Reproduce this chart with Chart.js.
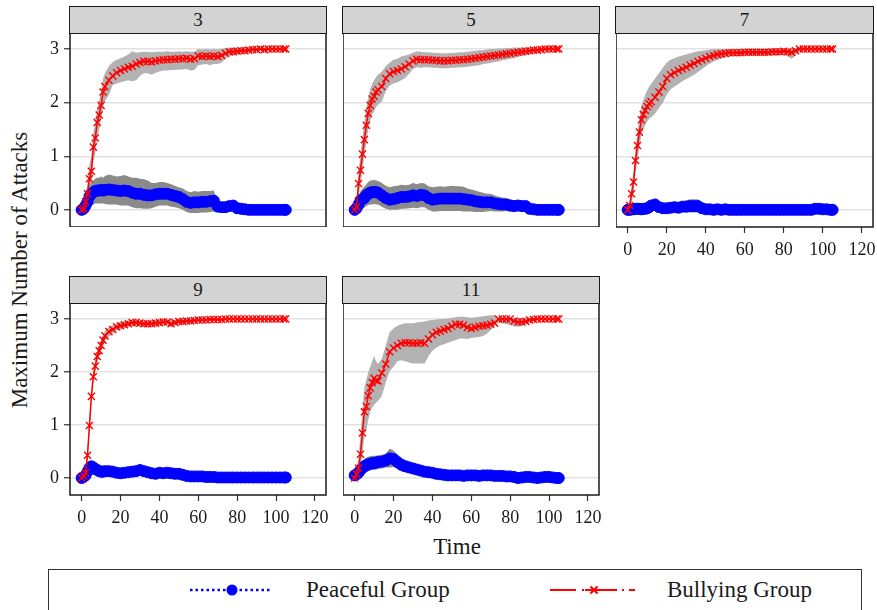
<!DOCTYPE html>
<html><head><meta charset="utf-8">
<script src="https://cdn.jsdelivr.net/npm/chart.js@4.4.1/dist/chart.umd.min.js"></script>
<style>
html,body{margin:0;padding:0;background:#fff;}
body{width:877px;height:610px;overflow:hidden;position:relative;font-family:"Liberation Serif","DejaVu Serif",serif;color:#1a1a1a;}
canvas{position:absolute;}
.strip{position:absolute;box-sizing:border-box;background:#d3d3d3;border:1.5px solid #1a1a1a;font-size:19px;display:flex;align-items:center;justify-content:center;}
.ytitle{position:absolute;width:340px;left:-150px;top:257px;height:26px;line-height:26px;text-align:center;font-size:23px;transform:rotate(-90deg);}
.xtitle{position:absolute;left:357px;width:200px;top:534px;line-height:26px;text-align:center;font-size:23px;}
.legend{position:absolute;left:48px;top:569px;width:814px;height:60px;box-sizing:border-box;border:1px solid #333;}
.ltext{position:absolute;font-size:23px;line-height:26px;top:577px;}
svg{position:absolute;}
</style></head>
<body>
<div class="ytitle">Maximum Number of Attacks</div>
<div class="xtitle">Time</div>
<div class="legend"></div>
<svg style="left:180px;top:578px" width="100" height="24">
  <line x1="10" y1="12" x2="92" y2="12" stroke="#0000ff" stroke-width="2.5" stroke-dasharray="2.5,3"/>
  <circle cx="52" cy="12" r="5.5" fill="#0000ff"/>
</svg>
<div class="ltext" style="left:306px">Peaceful Group</div>
<svg style="left:545px;top:578px" width="100" height="24">
  <path d="M5 12 H31 M37 12 H39 M53 12 H72 M77 12 H79 M84 12 H90" stroke="#ff0000" stroke-width="2"/>
  <path d="M45.5 8.5 L52.5 15.5 M45.5 15.5 L52.5 8.5" stroke="#ff0000" stroke-width="2"/>
  <line x1="40" y1="12" x2="58" y2="12" stroke="#ff0000" stroke-width="2"/>
</svg>
<div class="ltext" style="left:667px">Bullying Group</div>
<script>
// ---- data ----
const panelTitles = ['3', '5', '7', '9', '11'];
const xTicks = [0, 20, 40, 60, 80, 100, 120];
const yTicks = [0, 1, 2, 3];
const times = [0,1,2,3,4,5,6,7,8,9,
  10,11,12,14,16,18,20,22,24,26,
  28,30,32,34,36,38,40,42,44,46,
  48,50,52,54,56,58,60,62,64,66,
  68,70,72,74,76,78,80,82,84,86,
  88,90,92,94,96,98,100,102,104,105];

const bully3 = [0,0.02,0.15,0.3,0.58,0.72,1.17,1.34,1.63,1.77,
  1.95,2.2,2.3,2.42,2.5,2.56,2.6,2.63,2.66,2.68,
  2.72,2.75,2.77,2.77,2.76,2.78,2.79,2.8,2.8,2.81,
  2.81,2.82,2.82,2.83,2.81,2.82,2.87,2.86,2.87,2.86,
  2.87,2.86,2.88,2.92,2.95,2.95,2.96,2.97,2.97,2.98,
  2.99,2.99,3,2.99,3,3,3,3,3,3];
const bully3Hi = [0,0.08,0.3,0.5,0.85,1.0,1.45,1.62,1.9,2.05,
  2.22,2.45,2.55,2.68,2.76,2.8,2.83,2.86,2.9,2.96,
  2.93,2.94,2.95,2.95,2.94,2.95,2.95,2.95,2.96,2.95,
  2.95,2.96,2.95,2.96,2.95,2.95,3.0,2.99,3.0,2.99,
  3.0,2.99,3.0,3.02,3.03,3.03,3.03,3.03,3.03,3.03,
  3.03,3.03,3.03,3.03,3.02,3.02,3.02,3.02,3.02,3.02];
const bully3Lo = [0,-0.02,0.02,0.12,0.32,0.45,0.9,1.05,1.35,1.5,
  1.68,1.92,2.03,2.15,2.33,2.36,2.38,2.4,2.42,2.4,
  2.42,2.5,2.55,2.55,2.52,2.56,2.58,2.6,2.6,2.61,
  2.61,2.62,2.62,2.63,2.6,2.61,2.7,2.71,2.72,2.7,
  2.72,2.72,2.75,2.82,2.88,2.88,2.9,2.92,2.93,2.95,
  2.96,2.97,2.98,2.97,2.98,2.99,3.0,3.0,3.0,3.0];
const peace3 = [0,0.02,0.08,0.15,0.25,0.3,0.33,0.35,0.36,0.36,
  0.37,0.36,0.37,0.38,0.37,0.36,0.35,0.36,0.35,0.32,
  0.3,0.3,0.28,0.27,0.27,0.29,0.3,0.3,0.3,0.28,
  0.26,0.24,0.2,0.15,0.13,0.14,0.14,0.15,0.15,0.16,
  0.17,0.06,0.05,0.05,0.07,0.08,0.03,0.02,0.01,0,
  0,0,0,0,0,0,0,0,0,0];
const peace3Hi = [0,0.05,0.18,0.3,0.42,0.5,0.55,0.58,0.6,0.6,
  0.62,0.6,0.63,0.66,0.64,0.62,0.63,0.65,0.62,0.6,
  0.6,0.58,0.57,0.55,0.5,0.5,0.52,0.52,0.5,0.48,
  0.45,0.42,0.4,0.35,0.33,0.35,0.34,0.35,0.35,0.35,
  0.36,0.12,0.1,0.1,0.14,0.14,0.06,0.04,0.02,0.01,
  0.01,0.01,0.01,0.01,0.01,0.01,0.01,0.01,0.01,0.01];
const peace3Lo = [0,-0.01,-0.02,0,0.06,0.1,0.1,0.12,0.12,0.12,
  0.12,0.12,0.11,0.1,0.1,0.1,0.08,0.08,0.08,0.05,
  0.03,0.03,0.02,0.02,0.03,0.06,0.08,0.08,0.08,0.06,
  0.05,0.03,0,-0.04,-0.06,-0.06,-0.06,-0.05,-0.05,-0.04,
  -0.03,0,0,0,0,0.02,0,0,0,-0.01,
  -0.01,-0.01,-0.01,-0.01,-0.01,-0.01,-0.01,-0.01,-0.01,-0.01];

const bully5 = [0,0.06,0.49,0.74,1.04,1.31,1.58,1.8,1.95,2.07,
  2.12,2.2,2.24,2.3,2.45,2.54,2.58,2.6,2.63,2.67,
  2.72,2.78,2.81,2.8,2.8,2.8,2.79,2.79,2.78,2.78,
  2.78,2.79,2.79,2.8,2.8,2.81,2.82,2.83,2.84,2.85,
  2.86,2.87,2.88,2.89,2.9,2.91,2.92,2.93,2.94,2.95,
  2.96,2.97,2.98,2.98,2.99,3,3,3,3,3];
const bully5Hi = [0,0.15,0.75,1.0,1.35,1.62,1.9,2.1,2.25,2.36,
  2.42,2.48,2.52,2.58,2.68,2.75,2.8,2.82,2.86,2.88,
  2.9,2.93,2.96,2.95,2.94,2.94,2.93,2.93,2.92,2.92,
  2.92,2.93,2.93,2.94,2.94,2.95,2.96,2.97,2.98,2.98,
  2.99,3.0,3.0,3.01,3.01,3.02,3.02,3.03,3.03,3.03,
  3.03,3.03,3.03,3.03,3.03,3.03,3.03,3.03,3.03,3.03];
const bully5Lo = [0,-0.03,0.22,0.48,0.74,1.0,1.26,1.5,1.65,1.78,
  1.83,1.92,1.96,2.02,2.22,2.32,2.36,2.38,2.42,2.46,
  2.54,2.63,2.66,2.65,2.66,2.66,2.65,2.65,2.64,2.64,
  2.64,2.65,2.65,2.66,2.66,2.67,2.68,2.69,2.7,2.72,
  2.73,2.74,2.76,2.77,2.79,2.8,2.82,2.83,2.85,2.87,
  2.89,2.91,2.93,2.94,2.96,2.97,2.98,2.98,2.98,2.98];
const peace5 = [0,0.03,0.1,0.18,0.2,0.22,0.27,0.3,0.32,0.33,
  0.33,0.33,0.32,0.27,0.22,0.19,0.2,0.22,0.24,0.24,
  0.25,0.27,0.26,0.28,0.27,0.22,0.19,0.2,0.21,0.21,
  0.21,0.21,0.21,0.21,0.2,0.19,0.18,0.16,0.15,0.14,
  0.14,0.14,0.12,0.11,0.1,0.1,0.08,0.07,0.08,0.07,
  0.07,0.02,0.01,0,0,0,0,0,0,0];
const peace5Hi = [0,0.08,0.25,0.35,0.4,0.43,0.48,0.52,0.55,0.55,
  0.56,0.55,0.54,0.5,0.45,0.42,0.44,0.45,0.47,0.46,
  0.47,0.5,0.48,0.5,0.49,0.44,0.42,0.43,0.44,0.43,
  0.44,0.45,0.44,0.44,0.43,0.4,0.38,0.36,0.34,0.32,
  0.3,0.3,0.27,0.25,0.23,0.22,0.2,0.18,0.19,0.17,
  0.16,0.06,0.03,0.01,0.01,0.01,0.01,0.01,0.01,0.01];
const peace5Lo = [0,-0.02,-0.03,0.02,0.02,0.04,0.07,0.09,0.1,0.1,
  0.11,0.1,0.1,0.06,0.02,0,0,0,0.02,0.02,
  0.03,0.04,0.03,0.05,0.05,0,-0.03,-0.03,-0.02,-0.02,
  -0.02,-0.02,-0.02,-0.02,-0.03,-0.03,-0.03,-0.04,-0.04,-0.04,
  -0.03,-0.02,-0.03,-0.03,-0.03,-0.02,-0.03,-0.03,-0.02,-0.03,
  -0.02,-0.01,0,-0.01,-0.01,-0.01,-0.01,-0.01,-0.01,-0.01];

const bully7 = [0,0.08,0.3,0.52,0.92,1.2,1.45,1.68,1.78,1.86,
  1.93,1.98,2.02,2.1,2.2,2.3,2.45,2.52,2.56,2.6,
  2.63,2.66,2.7,2.73,2.77,2.8,2.83,2.86,2.88,2.9,
  2.91,2.92,2.93,2.93,2.93,2.93,2.94,2.94,2.94,2.94,
  2.94,2.94,2.94,2.95,2.95,2.95,2.96,2.95,2.94,2.97,
  3,3,3,3,3,3,3,3,3,3];
const bully7Hi = [0,0.15,0.45,0.72,1.15,1.45,1.72,1.95,2.05,2.15,
  2.23,2.3,2.35,2.45,2.55,2.65,2.75,2.8,2.83,2.86,
  2.88,2.9,2.92,2.94,2.96,2.97,2.98,2.99,3.0,3.0,
  3.0,3.0,3.0,3.0,3.0,3.0,3.0,3.0,3.0,3.0,
  3.0,3.0,3.0,3.0,3.0,3.0,3.0,3.0,3.0,3.02,
  3.03,3.03,3.03,3.03,3.03,3.03,3.03,3.03,3.03,3.03];
const bully7Lo = [0,0,0.15,0.32,0.68,0.95,1.18,1.4,1.5,1.58,
  1.65,1.7,1.73,1.8,1.9,2.0,2.15,2.25,2.3,2.35,
  2.4,2.44,2.48,2.52,2.57,2.63,2.68,2.73,2.77,2.8,
  2.82,2.85,2.86,2.87,2.87,2.87,2.88,2.88,2.88,2.88,
  2.88,2.88,2.88,2.89,2.88,2.89,2.9,2.86,2.82,2.88,
  2.96,2.98,3.0,3.0,3.0,3.0,3.0,3.0,3.0,3.0];
const peace7 = [0,0,0.01,0.01,0.02,0.02,0.02,0.01,0.02,0.02,
  0.03,0.05,0.08,0.1,0.05,0.03,0.03,0.04,0.05,0.04,
  0.06,0.06,0.07,0.07,0.07,0.03,0.01,0.01,0,0.01,
  0,0.01,0,0,0,0,0,0,0,0,
  0,0,0,0,0,0,0,0,0,0,
  0,0,0,0,0.02,0.02,0.01,0.01,0,0];
const peace7Hi = [0,0.02,0.03,0.03,0.04,0.04,0.04,0.03,0.04,0.04,
  0.06,0.09,0.12,0.14,0.08,0.06,0.08,0.1,0.13,0.12,
  0.16,0.18,0.2,0.2,0.2,0.1,0.03,0.02,0.01,0.02,
  0.01,0.02,0.01,0.01,0.01,0.01,0.01,0.01,0.01,0.01,
  0.01,0.01,0.01,0.01,0.01,0.01,0.01,0.01,0.01,0.01,
  0.01,0.01,0.01,0.01,0.04,0.04,0.03,0.02,0.01,0.01];
const peace7Lo = [0,-0.01,-0.01,-0.01,0,0,0,-0.01,0,0,
  0,0.01,0.03,0.05,0.01,-0.01,-0.02,-0.02,-0.03,-0.03,
  -0.04,-0.05,-0.05,-0.05,-0.05,-0.03,-0.01,0,-0.01,0,
  -0.01,0,-0.01,-0.01,-0.01,-0.01,-0.01,-0.01,-0.01,-0.01,
  -0.01,-0.01,-0.01,-0.01,-0.01,-0.01,-0.01,-0.01,-0.01,-0.01,
  -0.01,-0.01,-0.01,-0.01,0,0,0,0,-0.01,-0.01];

const bully9 = [0,0.04,0.1,0.43,0.99,1.54,1.91,2.11,2.29,2.4,
  2.5,2.6,2.68,2.76,2.8,2.85,2.87,2.89,2.91,2.93,
  2.93,2.92,2.91,2.91,2.91,2.92,2.93,2.94,2.94,2.91,
  2.93,2.95,2.95,2.96,2.96,2.97,2.98,2.98,2.98,2.99,
  2.99,2.99,2.99,3,3,3,3,3,3,3,
  3,3,3,3,3,3,3,3,3,3];
const bully9Hi = [0,0.08,0.18,0.55,1.12,1.66,2.02,2.22,2.4,2.5,
  2.6,2.7,2.77,2.85,2.88,2.92,2.94,2.95,2.97,2.98,
  2.98,2.97,2.96,2.96,2.96,2.97,2.98,2.99,2.99,2.98,
  2.98,3.0,3.0,3.0,3.0,3.0,3.01,3.01,3.01,3.01,
  3.01,3.01,3.01,3.01,3.01,3.01,3.01,3.01,3.01,3.01,
  3.01,3.01,3.01,3.01,3.01,3.01,3.01,3.01,3.01,3.01];
const bully9Lo = [0,0,0.03,0.3,0.86,1.42,1.8,2.0,2.18,2.3,
  2.4,2.5,2.59,2.67,2.72,2.78,2.8,2.83,2.85,2.88,
  2.88,2.87,2.86,2.86,2.86,2.87,2.88,2.89,2.89,2.84,
  2.88,2.9,2.9,2.92,2.92,2.94,2.95,2.95,2.96,2.97,
  2.97,2.98,2.98,2.99,3.0,3.0,3.0,3.0,3.0,3.0,
  3,3,3,3,3,3,3,3,3,3];
const peace9 = [0,0.02,0.05,0.12,0.19,0.22,0.2,0.17,0.15,0.13,
  0.12,0.12,0.13,0.13,0.12,0.1,0.09,0.1,0.11,0.12,
  0.13,0.15,0.13,0.11,0.09,0.08,0.1,0.09,0.1,0.09,
  0.08,0.08,0.06,0.04,0.03,0.03,0.03,0.03,0.02,0.02,
  0.02,0.01,0.01,0.01,0.01,0.01,0.01,0.01,0.01,0.01,
  0.01,0.01,0.01,0.01,0.01,0.01,0.01,0.01,0.01,0.01];
const peace9Hi = [0,0.05,0.12,0.22,0.29,0.3,0.28,0.25,0.23,0.21,
  0.2,0.2,0.21,0.21,0.2,0.18,0.17,0.18,0.19,0.2,
  0.21,0.23,0.21,0.19,0.17,0.15,0.17,0.16,0.17,0.16,
  0.14,0.14,0.12,0.09,0.07,0.07,0.07,0.06,0.05,0.05,
  0.05,0.03,0.03,0.03,0.02,0.02,0.02,0.02,0.02,0.02,
  0.02,0.02,0.02,0.02,0.02,0.02,0.02,0.02,0.02,0.02];
const peace9Lo = [0,-0.01,-0.02,0.03,0.1,0.13,0.12,0.09,0.07,0.05,
  0.04,0.04,0.05,0.05,0.04,0.02,0.01,0.02,0.03,0.04,
  0.05,0.07,0.05,0.03,0.01,0,0.02,0.02,0.03,0.02,
  0.02,0.02,0,-0.01,-0.01,-0.01,-0.01,-0.01,-0.01,-0.01,
  -0.01,-0.01,-0.01,0,0,0,0,0,0,0,
  0,0,0,0,0,0,0,0,0,0];

const bully11 = [0,0.07,0.19,0.45,0.85,1.25,1.35,1.55,1.7,1.8,
  1.88,1.84,1.83,1.98,2.15,2.38,2.45,2.5,2.54,2.55,
  2.55,2.54,2.54,2.55,2.54,2.62,2.7,2.75,2.77,2.8,
  2.82,2.86,2.9,2.9,2.88,2.84,2.82,2.84,2.86,2.87,
  2.88,2.9,2.92,3,3,3,3,2.96,2.94,2.94,
  2.95,2.98,2.99,3,3,3,3,3,3,3];
const bully11Hi = [0,0.15,0.38,0.8,1.3,1.7,1.85,2.0,2.1,2.2,
  2.3,2.2,2.15,2.25,2.5,2.75,2.82,2.87,2.9,2.92,
  2.92,2.92,2.93,2.94,2.95,2.97,2.98,2.99,3.0,3.0,
  3.01,3.02,3.03,3.04,3.04,3.03,3.02,3.03,3.04,3.05,
  3.06,3.07,3.07,3.03,3.02,3.02,3.02,3.02,3.02,3.02,
  3.02,3.02,3.02,3.02,3.02,3.02,3.02,3.02,3.02,3.02];
const bully11Lo = [0,0,0.05,0.2,0.45,0.8,0.9,1.1,1.25,1.33,
  1.38,1.42,1.45,1.55,1.8,2.02,2.1,2.2,2.22,2.2,
  2.18,2.16,2.16,2.16,2.16,2.3,2.4,2.46,2.5,2.52,
  2.55,2.58,2.6,2.63,2.63,2.62,2.64,2.65,2.66,2.68,
  2.72,2.79,2.86,2.94,2.92,2.9,2.88,2.86,2.85,2.87,
  2.9,2.94,2.96,2.98,3.0,3.0,3.0,3.0,3.0,3.0];
const peace11 = [0.05,0.07,0.1,0.15,0.19,0.22,0.24,0.26,0.27,0.28,
  0.28,0.29,0.3,0.31,0.33,0.37,0.36,0.3,0.25,0.22,
  0.2,0.18,0.16,0.14,0.12,0.11,0.1,0.08,0.07,0.06,
  0.05,0.05,0.05,0.05,0.04,0.05,0.05,0.05,0.04,0.05,
  0.05,0.05,0.04,0.04,0.04,0.03,0.03,0.02,0,0.01,
  0.02,0.02,0.01,0,0.01,0.02,0.02,0.01,0,0];
const peace11Hi = [0.05,0.12,0.2,0.28,0.33,0.36,0.38,0.4,0.41,0.42,
  0.42,0.42,0.43,0.44,0.46,0.55,0.52,0.44,0.38,0.34,
  0.31,0.28,0.25,0.22,0.2,0.18,0.17,0.15,0.13,0.12,
  0.1,0.1,0.09,0.09,0.08,0.09,0.09,0.09,0.08,0.09,
  0.09,0.09,0.08,0.07,0.07,0.06,0.06,0.05,0.03,0.04,
  0.05,0.05,0.03,0.03,0.03,0.03,0.03,0.03,0.03,0.03];
const peace11Lo = [0.05,0.02,0,0.03,0.06,0.09,0.11,0.13,0.14,0.15,
  0.15,0.16,0.17,0.18,0.2,0.2,0.21,0.17,0.13,0.11,
  0.1,0.08,0.07,0.06,0.05,0.04,0.03,0.02,0.01,0.01,
  0,0,0,0,0,0,0,0,0,0,
  0,0,0,0,0,0,0,0,-0.01,-0.01,
  -0.01,-0.01,-0.01,-0.01,-0.01,-0.01,-0.01,-0.01,-0.01,-0.01];

// ---- layout (positions only) ----
const FONT = '"Liberation Serif", "DejaVu Serif", serif';
const panels = [
  {title: panelTitles[0], b: bully3, bHi: bully3Hi, bLo: bully3Lo, p: peace3, pHi: peace3Hi, pLo: peace3Lo, left: 70, top: 33, w: 256, h: 194, yl: true, xl: false},
  {title: panelTitles[1], b: bully5, bHi: bully5Hi, bLo: bully5Lo, p: peace5, pHi: peace5Hi, pLo: peace5Lo, left: 343, top: 33, w: 256, h: 194, yl: false, xl: false},
  {title: panelTitles[2], b: bully7, bHi: bully7Hi, bLo: bully7Lo, p: peace7, pHi: peace7Hi, pLo: peace7Lo, left: 616, top: 33, w: 257, h: 194, yl: false, xl: true},
  {title: panelTitles[3], b: bully9, bHi: bully9Hi, bLo: bully9Lo, p: peace9, pHi: peace9Hi, pLo: peace9Lo, left: 70, top: 303, w: 256, h: 192, yl: true, xl: true},
  {title: panelTitles[4], b: bully11, bHi: bully11Hi, bLo: bully11Lo, p: peace11, pHi: peace11Hi, pLo: peace11Lo, left: 343, top: 303, w: 256, h: 192, yl: false, xl: true}
];

const framePlugin = {
  id: 'frame',
  afterDraw(chart) {
    const {ctx, chartArea: a} = chart;
    ctx.save();
    ctx.strokeStyle = '#1a1a1a';
    ctx.lineWidth = 1.5;
    ctx.strokeRect(a.left, a.top, a.right - a.left, a.bottom - a.top);
    ctx.restore();
  }
};

function pts(arr) { return times.map((t, i) => ({x: t, y: arr[i]})); }

panels.forEach(p => {
  const yW = p.yl ? 30 : 0;
  const xH = p.xl ? 40 : 0;
  const padR = 16;

  const strip = document.createElement('div');
  strip.className = 'strip';
  strip.style.left = (p.left - 0.75) + 'px';
  strip.style.top = (p.top - 27.5) + 'px';
  strip.style.width = (p.w + 1.5) + 'px';
  strip.style.height = '28.5px';
  strip.textContent = p.title;
  document.body.appendChild(strip);

  const cv = document.createElement('canvas');
  cv.width = p.w + yW + padR;
  cv.height = p.h + xH;
  cv.style.left = (p.left - yW) + 'px';
  cv.style.top = p.top + 'px';
  document.body.appendChild(cv);

  const none = 'rgba(0,0,0,0)';
  new Chart(cv, {
    type: 'line',
    data: {datasets: [
      {label: 'pLo', data: pts(p.pLo), borderColor: none, borderWidth: 0, pointRadius: 0, fill: false, order: 10},
      {label: 'pHi', data: pts(p.pHi), borderColor: none, borderWidth: 0, pointRadius: 0, fill: '-1', backgroundColor: '#8a8a8a', order: 10},
      {label: 'bLo', data: pts(p.bLo), borderColor: none, borderWidth: 0, pointRadius: 0, fill: false, order: 10},
      {label: 'bHi', data: pts(p.bHi), borderColor: none, borderWidth: 0, pointRadius: 0, fill: '-1', backgroundColor: '#b2b2b2', order: 10},
      {label: 'Peaceful Group', data: pts(p.p), borderColor: '#0000ff', borderWidth: 2, borderDash: [2, 3], fill: false,
        pointStyle: 'circle', pointRadius: 5.5, pointBackgroundColor: '#0000ff', pointBorderColor: '#0000ff', pointBorderWidth: 1, order: 2},
      {label: 'Bullying Group', data: pts(p.b), borderColor: '#ff0000', borderWidth: 1.5, fill: false,
        pointStyle: 'crossRot', pointRadius: 5, pointBorderColor: '#ff0000', pointBorderWidth: 1.4, order: 1}
    ]},
    options: {
      responsive: false, animation: false, devicePixelRatio: 1,
      layout: {autoPadding: false, padding: {left: 0, top: 0, right: padR, bottom: 0}},
      plugins: {legend: {display: false}, tooltip: {enabled: false}},
      elements: {line: {tension: 0}},
      scales: {
        x: {
          type: 'linear', min: -6, max: 125.7,
          afterBuildTicks: s => { s.ticks = xTicks.map(v => ({value: v})); },
          afterFit: s => { s.height = xH; s.paddingLeft = 0; s.paddingRight = 0; },
          border: {display: false},
          grid: {display: p.xl, drawOnChartArea: false, drawTicks: true, tickLength: 6, tickColor: '#333', tickWidth: 1.2},
          ticks: {display: p.xl, padding: 6, autoSkip: false, maxRotation: 0, color: '#1a1a1a', font: {family: FONT, size: 18}}
        },
        y: {
          type: 'linear', min: -0.32, max: 3.3,
          afterBuildTicks: s => { s.ticks = yTicks.map(v => ({value: v})); },
          afterFit: s => { s.width = yW; s.paddingTop = 0; s.paddingBottom = 0; },
          border: {display: false},
          grid: {color: '#e2e2e2', lineWidth: 1.5, drawTicks: p.yl, tickLength: 6, tickColor: '#333', tickWidth: 1.2},
          ticks: {display: p.yl, padding: 5, color: '#1a1a1a', font: {family: FONT, size: 18}}
        }
      }
    },
    plugins: [framePlugin]
  });
});
</script>
</body></html>
